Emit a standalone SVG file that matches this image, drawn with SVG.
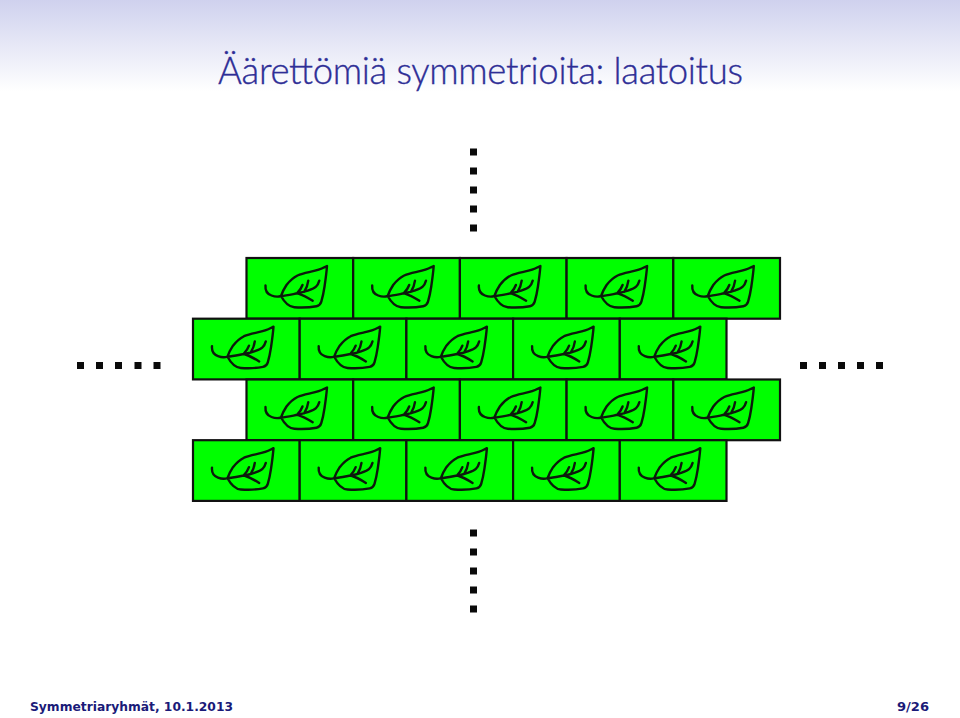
<svg xmlns="http://www.w3.org/2000/svg" xmlns:xlink="http://www.w3.org/1999/xlink" width="960" height="718" viewBox="0 0 960 718">
<style>
.tile{fill:#00ff00;stroke:#111;stroke-width:2.2}
.leaf{fill:none;stroke:#0c1a0c;stroke-width:2.4;stroke-linecap:round;stroke-linejoin:round}
.dot{fill:#0a0a0a}
.title{font-family:"Lato","Open Sans",sans-serif;font-weight:300;font-size:36.500px;fill:#2e2e96;stroke:#2e2e96;stroke-width:0.35}
.foot{font-family:"DejaVu Sans",sans-serif;font-weight:700;font-size:13px;fill:#1a1a78}
</style>
<defs>
<linearGradient id="hdr" x1="0" y1="0" x2="0" y2="1">
<stop offset="0" stop-color="#cfd1ee"/><stop offset="1" stop-color="#ffffff"/>
</linearGradient>
<g id="t">
<rect class="tile" x="0" y="0" width="106.7" height="60.7"/>
<path class="leaf" d="M19 27.500C18.500 33 21 36 25 37.500C28.500 38.800 32 38.800 34.500 38C36 33.500 38 30 40 27C43.500 22.500 47 19.500 51 17.500C55.500 15.500 60 14.700 64.500 13.700C69 12.800 74 11.500 77.800 9.300L80.500 8C80 15 79 22 78 28.700C77.200 34 76.200 39 74.800 43.700C74 46.500 72.700 47.700 70 48.200C63 49.600 55 49.800 47.800 49.300C41.500 48.800 37.500 43.500 34.500 38C40 37.500 46 36.200 51.200 35.300C55 34.700 58 33.800 61.200 32.700C64.500 31.500 67.500 30.500 69.500 28.700C71.500 27 72.200 24.800 72.800 22.700M57.800 33.700C59.800 30.500 61.300 26.500 61.800 22.700M50.500 35.300C52.800 33 55 30 56 27M51.200 35.300C56 36.800 61.500 39.800 66.200 42.700"/>
</g>
</defs>
<rect x="0" y="0" width="960" height="92" fill="url(#hdr)"/>
<text class="title" x="218" y="84" textLength="525" lengthAdjust="spacing">Äärettömiä symmetrioita: laatoitus</text>
<g id="tiles">
<g id="row1"><use xlink:href="#t" x="246.500" y="258"/><use xlink:href="#t" x="353.200" y="258"/><use xlink:href="#t" x="459.900" y="258"/><use xlink:href="#t" x="566.600" y="258"/><use xlink:href="#t" x="673.300" y="258"/></g>
<g id="row2"><use xlink:href="#t" x="193" y="318.700"/><use xlink:href="#t" x="299.700" y="318.700"/><use xlink:href="#t" x="406.400" y="318.700"/><use xlink:href="#t" x="513.100" y="318.700"/><use xlink:href="#t" x="619.800" y="318.700"/></g>
<g id="row3"><use xlink:href="#t" x="246.500" y="379.500"/><use xlink:href="#t" x="353.200" y="379.500"/><use xlink:href="#t" x="459.900" y="379.500"/><use xlink:href="#t" x="566.600" y="379.500"/><use xlink:href="#t" x="673.300" y="379.500"/></g>
<g id="row4"><use xlink:href="#t" x="193" y="440.200"/><use xlink:href="#t" x="299.700" y="440.200"/><use xlink:href="#t" x="406.400" y="440.200"/><use xlink:href="#t" x="513.100" y="440.200"/><use xlink:href="#t" x="619.800" y="440.200"/></g>
</g>
<g id="dots" class="dot">
<rect x="470" y="148.500" width="7" height="7"/><rect x="470" y="167.500" width="7" height="7"/><rect x="470" y="186.500" width="7" height="7"/><rect x="470" y="205.500" width="7" height="7"/><rect x="470" y="224.500" width="7" height="7"/>
<rect x="470" y="529.500" width="7" height="7"/><rect x="470" y="548.500" width="7" height="7"/><rect x="470" y="567.500" width="7" height="7"/><rect x="470" y="586.500" width="7" height="7"/><rect x="470" y="605.500" width="7" height="7"/>
<rect x="77" y="362" width="7" height="7"/><rect x="96" y="362" width="7" height="7"/><rect x="115" y="362" width="7" height="7"/><rect x="134.500" y="362" width="7" height="7"/><rect x="153.500" y="362" width="7" height="7"/>
<rect x="800" y="362" width="7" height="7"/><rect x="819" y="362" width="7" height="7"/><rect x="838" y="362" width="7" height="7"/><rect x="857" y="362" width="7" height="7"/><rect x="876" y="362" width="7" height="7"/>
</g>
<text class="foot" x="30" y="710.500" textLength="203" lengthAdjust="spacingAndGlyphs">Symmetriaryhmät, 10.1.2013</text>
<text class="foot" x="897" y="710.500" textLength="32" lengthAdjust="spacingAndGlyphs">9/26</text>
</svg>
